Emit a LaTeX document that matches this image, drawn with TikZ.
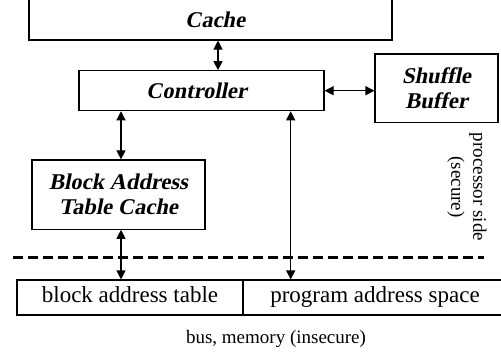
\documentclass[tikz,border=0pt]{standalone}
\usepackage{fontspec}
\setmainfont{Liberation Serif}
% slanted bold serif for the unit names
\newfontfamily\unitfont{Liberation Serif}[FakeSlant=0.2]
\usetikzlibrary{arrows.meta}
\begin{document}
\begin{tikzpicture}[x=1pt,y=-1pt,
  unit/.style={draw,line width=1.1pt,rectangle,inner sep=0pt,align=center,
    font=\fontsize{22.5}{25}\unitfont\bfseries},
  memcell/.style={draw,line width=1.1pt,rectangle,inner sep=0pt,
    text height=15pt,text depth=5pt,font=\fontsize{23}{25}\selectfont},
  note/.style={inner sep=0pt,align=center,font=\fontsize{19}{22}\selectfont},
  tip/.tip={Triangle[length=9pt,width=9pt]},
  link/.style={line width=1.1pt,tip-tip},
  boundary/.style={line width=2.6pt,dash pattern=on 10pt off 5pt}]
\useasboundingbox (0,0) rectangle (501,356);
\clip (0,0) rectangle (501,356);

% on-chip cache (its upper part runs off the top edge)
\node[unit,minimum width=363pt,minimum height=80pt] (cache) at (210.5,0) {};
\node[inner sep=0pt,font=\fontsize{22.5}{25}\unitfont\bfseries] (cachelbl) at (215,20) {Cache};

% controller and shuffle buffer
\node[unit,minimum width=245pt,minimum height=40pt] (ctrl) at (201.5,90.7) {Controller\hspace*{10pt}};
\node[unit,minimum width=123pt,minimum height=68.7pt] (shuf) at (436.5,88.3) {Shuffle\\Buffer};

% block address table cache
\node[unit,minimum width=173pt,minimum height=69.3pt] (batc) at (118.5,194.6) {Block Address\\Table Cache};

% memory layout
\node[memcell,minimum width=226pt,minimum height=35pt] (bat) at (130,297.5) {block address table};
\node[memcell,minimum width=264pt,minimum height=35pt] (pas) at (375,297.5) {program address space};

% secure / insecure boundary
\coordinate (bl) at (13,257.5);
\coordinate (br) at (484,257.5);
\draw[boundary] (bl) -- (br);

% connections
\draw[link] ([xshift=16.5pt]ctrl.north) -- ([xshift=16.5pt]ctrl.north |- cache.south);
\draw[link] (ctrl.east) -- (ctrl.east -| shuf.west);
\draw[link] ([xshift=2.5pt]batc.north |- ctrl.south) -- ([xshift=2.5pt]batc.north);
\draw[link] ([xshift=2.5pt]batc.south) -- ([xshift=2.5pt]batc.south |- bat.north);
\draw[link] ([xshift=89.2pt]ctrl.south) -- ([xshift=89.2pt]ctrl.south |- pas.north);

% labels
\node[note,rotate=-90] (side) at (467,187) {processor side\\(secure)};
\node[note] (bus) at (276,339) {bus, memory (insecure)};
\end{tikzpicture}
\end{document}
